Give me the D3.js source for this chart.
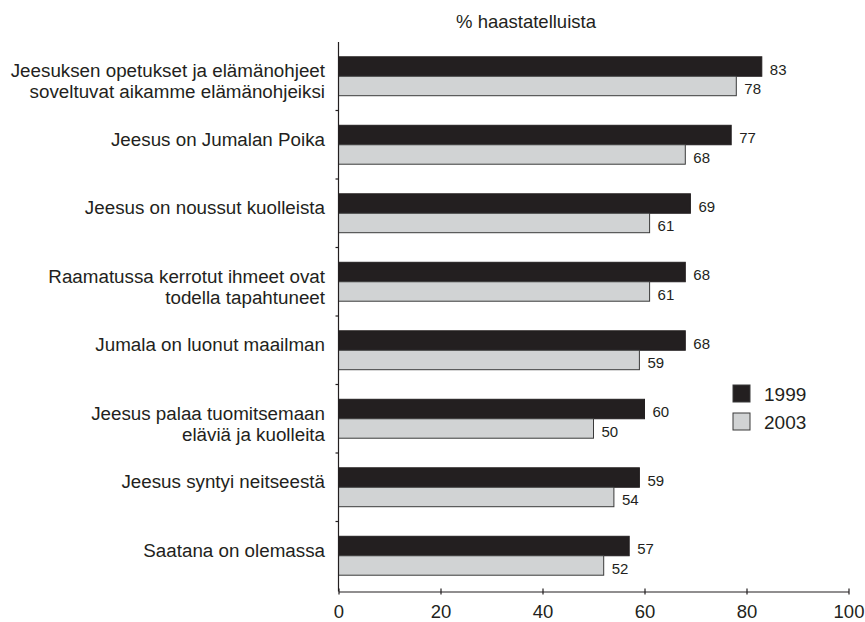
<!DOCTYPE html>
<html>
<head>
<meta charset="utf-8">
<script src="https://cdn.jsdelivr.net/npm/d3@7"></script>
<style>
  html, body { margin: 0; padding: 0; background: #fff; }
  svg { display: block; font-family: "Liberation Sans", Arial, sans-serif; }
</style>
</head>
<body>
<svg id="chart" width="865" height="622"></svg>
<script>
const categories = [
  ["Jeesuksen opetukset ja elämänohjeet", "soveltuvat aikamme elämänohjeiksi"],
  ["Jeesus on Jumalan Poika"],
  ["Jeesus on noussut kuolleista"],
  ["Raamatussa kerrotut ihmeet ovat", "todella tapahtuneet"],
  ["Jumala on luonut maailman"],
  ["Jeesus palaa tuomitsemaan", "eläviä ja kuolleita"],
  ["Jeesus syntyi neitseestä"],
  ["Saatana on olemassa"]
];
const seriesNames = ["1999", "2003"];
const values1999 = [83, 77, 69, 68, 68, 60, 59, 57];
const values2003 = [78, 68, 61, 61, 59, 50, 54, 52];
const xTicks = [0, 20, 40, 60, 80, 100];
const axisTitle = "% haastatelluista";
const colors = ["#231f20", "#d1d3d4"];

const svg = d3.select("#chart");
const ink = "#231f20";

const x = d3.scaleLinear().domain([0, 100]).range([338.5, 848.5]);
const keys = categories.map((c, i) => i);
const y = d3.scaleBand().domain(keys).range([42, 590]).padding(0);
const sub = d3.scaleBand().domain(seriesNames).range([0, y.bandwidth()])
  .paddingInner(0.0).paddingOuter(0.76);
const axisY = 591.5;

const data = categories.map((c, i) => ({ i, label: c, vals: [values1999[i], values2003[i]] }));

// Bars
const g = svg.append("g");
const groups = g.selectAll("g.cat").data(data).join("g")
  .attr("transform", d => `translate(0,${y(d.i)})`);

seriesNames.forEach((s, si) => {
  groups.append("rect")
    .attr("x", x(0))
    .attr("y", sub(s))
    .attr("width", d => x(d.vals[si]) - x(0))
    .attr("height", sub.bandwidth())
    .attr("fill", colors[si])
    .attr("stroke", si === 0 ? ink : "#3a3a3a")
    .attr("stroke-width", 1);
  groups.append("text")
    .attr("x", d => x(d.vals[si]) + 8)
    .attr("y", sub(s) + sub.bandwidth() / 2 + 3)
    .attr("dy", "0.36em")
    .attr("font-size", 15)
    .attr("fill", ink)
    .text(d => d.vals[si]);
});

// Category labels
groups.each(function(d) {
  const sel = d3.select(this);
  const c = y.bandwidth() / 2;
  const t = sel.append("text")
    .attr("text-anchor", "end")
    .attr("font-size", 18.8)
    .attr("fill", ink);
  if (d.label.length === 1) {
    t.append("tspan").attr("x", 325).attr("y", c - 6).attr("dy", "0.36em").text(d.label[0]);
  } else {
    t.append("tspan").attr("x", 325).attr("y", c - 6).attr("dy", "0.36em").text(d.label[0]);
    t.append("tspan").attr("x", 325).attr("y", c + 15).attr("dy", "0.36em").text(d.label[1]);
  }
});

// Y axis line with boundary ticks
svg.append("line")
  .attr("x1", x(0)).attr("x2", x(0)).attr("y1", 42).attr("y2", axisY)
  .attr("stroke", ink).attr("stroke-width", 1.2);
svg.selectAll("line.ytick").data(keys.slice(1)).join("line")
  .attr("class", "ytick")
  .attr("x1", x(0) - 3).attr("x2", x(0))
  .attr("y1", d => y(d)).attr("y2", d => y(d))
  .attr("stroke", ink).attr("stroke-width", 1.2);

// X axis
const xAxis = d3.axisBottom(x).tickValues(xTicks).tickSizeInner(4).tickSizeOuter(0).tickPadding(9);
const ax = svg.append("g").attr("transform", `translate(0,${axisY})`).call(xAxis);
ax.select(".domain").attr("stroke", ink).attr("stroke-width", 1.2);
ax.selectAll(".tick line").attr("stroke", ink).attr("stroke-width", 1.2).attr("y1", -3).attr("y2", 3);
ax.selectAll(".tick text").attr("font-size", 18.5).attr("fill", ink)
  .attr("font-family", "Liberation Sans, Arial, sans-serif");

// Title
svg.append("text")
  .attr("x", 526).attr("y", 28)
  .attr("text-anchor", "middle")
  .attr("font-size", 18.5)
  .attr("fill", ink)
  .text(axisTitle);

// Legend
const leg = svg.append("g").attr("transform", "translate(733,385)");
seriesNames.forEach((s, si) => {
  leg.append("rect")
    .attr("x", 0).attr("y", si * 28)
    .attr("width", 17).attr("height", 17)
    .attr("fill", colors[si])
    .attr("stroke", "#3a3a3a").attr("stroke-width", 1);
  leg.append("text")
    .attr("x", 31).attr("y", si * 28 + 9)
    .attr("dy", "0.36em")
    .attr("font-size", 19)
    .attr("fill", ink)
    .text(s);
});
</script>
</body>
</html>
